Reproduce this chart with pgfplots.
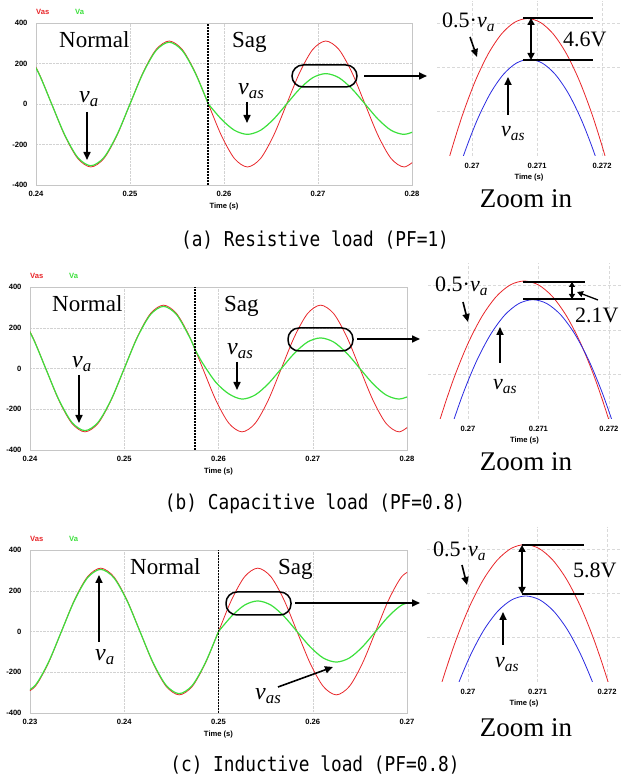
\documentclass[border=0pt]{standalone}
\usepackage{fontspec}
\setmainfont{Liberation Serif}
\newfontfamily\arial{Liberation Sans}
\newfontfamily\capf{DejaVu Sans Mono}
\usepackage{graphicx}
\usepackage{pgfplots}
\pgfplotsset{compat=1.18}
\usetikzlibrary{arrows.meta}

\definecolor{vred}{HTML}{E8262A}
\definecolor{vgreen}{HTML}{3CE03C}
\definecolor{vblue}{HTML}{2A2AE0}

\newcommand\tickf{\arial\bfseries\fontsize{7.6}{8.5}\selectfont}
\newcommand\vv[1]{\textit{v}\textsubscript{\textit{#1}}}
\newcommand\capt[1]{\scalebox{1}[1.15]{\capf\fontsize{17.8}{20}\selectfont #1}}

\pgfplotsset{
  mainax/.style={scale only axis, ymin=-400, ymax=400,
    ytick={-400,-200,0,200,400}, yticklabels={-400,-200,0,200,400},
    grid=major, major grid style={gray!35, densely dotted},
    axis line style={gray!45}, tick style={draw=none},
    ticklabel style={font=\tickf},
    xticklabel style={yshift=-3pt}, yticklabel style={xshift=-5pt},
    xlabel={Time (s)},
    xlabel style={font=\tickf, at={(axis description cs:0.5,0)}, anchor=center, yshift=-22pt}},
  zoomax/.style={scale only axis, ymin=140, ymax=157.5,
    ytick={145,150,155}, yticklabels={,,},
    xtick={0.27,0.271,0.272}, xticklabels={0.27,0.271,0.272},
    grid=major, major grid style={gray!30, densely dashed},
    axis line style={draw=none}, tick style={draw=none},
    ticklabel style={font=\tickf}, xticklabel style={yshift=-4pt},
    xlabel={Time (s)},
    xlabel style={font=\tickf, at={(axis description cs:0.5,0)}, anchor=center, yshift=-22pt}},
  red/.style={vred, line width=0.8pt, smooth},
  grn/.style={vgreen, line width=1.2pt, smooth},
  zred/.style={vred, line width=0.8pt, smooth},
  zblu/.style={vblue, line width=0.8pt, smooth},
}
\tikzset{
  arr/.style={line width=1.6pt, -{Triangle[length=8pt,width=7pt]}},
  darr/.style={line width=1.6pt, {Triangle[length=7pt,width=7pt]}-{Triangle[length=7pt,width=7pt]}},
  big/.style={inner sep=0, font=\fontsize{23}{25}\selectfont},
  vlab/.style={inner sep=0, anchor=base west, font=\fontsize{24}{26}\selectfont},
  sagline/.style={black, line width=1.6pt, dash pattern=on 1.5pt off 1.5pt},
}

\begin{document}
\begin{tikzpicture}[x=1pt,y=1pt]
\useasboundingbox (0,0) rectangle (621,781);

% ---------- (a) resistive load ----------
\begin{axis}[mainax, at={(36pt,596pt)}, width=376pt, height=162pt,
  xmin=0.24, xmax=0.28, xtick={0.24,0.25,0.26,0.27,0.28},
  xticklabels={0.24,0.25,0.26,0.27,0.28}]
\addplot[red] coordinates {(0.238889,269.3)(0.240278,155.5)(0.241667,0)(0.243056,-155.5)(0.244444,-269.3)(0.245833,-311)(0.247222,-269.3)(0.248611,-155.5)(0.25,0)(0.251389,155.5)(0.252778,269.3)(0.254167,311)(0.255556,269.3)(0.256944,155.5)(0.258333,0)(0.259722,-155.5)(0.261111,-269.3)(0.2625,-311)(0.263889,-269.3)(0.265278,-155.5)(0.266667,0)(0.268056,155.5)(0.269444,269.3)(0.270833,311)(0.272222,269.3)(0.273611,155.5)(0.275,0)(0.276389,-155.5)(0.277778,-269.3)(0.279167,-311)(0.280556,-269.3)};
\addplot[grn] coordinates {(0.238889,264.1)(0.240278,152.5)(0.241667,0)(0.243056,-152.5)(0.244444,-264.1)(0.245833,-305)(0.247222,-264.1)(0.248611,-152.5)(0.25,0)(0.251389,152.5)(0.252778,264.1)(0.254167,305)(0.255556,264.1)(0.256944,152.5)(0.258333,0)};
\addplot[grn] coordinates {(0.258333,0)(0.259722,-75)(0.261111,-129.9)(0.2625,-150)(0.263889,-129.9)(0.265278,-75)(0.266667,0)(0.268056,75)(0.269444,129.9)(0.270833,150)(0.272222,129.9)(0.273611,75)(0.275,0)(0.276389,-75)(0.277778,-129.9)(0.279167,-150)(0.280556,-129.9)};
\draw[sagline] (axis cs:0.2583,-400) -- (axis cs:0.2583,400);
\end{axis}

\begin{axis}[zoomax, at={(437pt,625pt)}, width=184pt, height=155.2pt,
  xmin=0.26946, xmax=0.27229]
\addplot[zred] coordinates {(0.26925,128.06)(0.26945,134.34)(0.26965,139.86)(0.26985,144.58)(0.27005,148.48)(0.27025,151.54)(0.27045,153.74)(0.27065,155.06)(0.27085,155.5)(0.27105,155.06)(0.27125,153.74)(0.27145,151.54)(0.27165,148.48)(0.27185,144.58)(0.27205,139.86)(0.27225,134.34)(0.27245,128.06)};
\addplot[zblu] coordinates {(0.26928,124.27)(0.26948,130.36)(0.26968,135.72)(0.26988,140.30)(0.27008,144.09)(0.27028,147.06)(0.27048,149.19)(0.27068,150.47)(0.27088,150.9)(0.27108,150.47)(0.27128,149.19)(0.27148,147.06)(0.27168,144.09)(0.27188,140.30)(0.27208,135.72)(0.27228,130.36)(0.27248,124.27)};
\draw[gray!70] (rel axis cs:0,0) -- (rel axis cs:1,0);
\end{axis}

% ---------- (b) capacitive load ----------
\begin{axis}[mainax, at={(30pt,331pt)}, width=377pt, height=163pt,
  xmin=0.24, xmax=0.28, xtick={0.24,0.25,0.26,0.27,0.28},
  xticklabels={0.24,0.25,0.26,0.27,0.28}]
\addplot[red] coordinates {(0.238889,269.3)(0.240278,155.5)(0.241667,0)(0.243056,-155.5)(0.244444,-269.3)(0.245833,-311)(0.247222,-269.3)(0.248611,-155.5)(0.25,0)(0.251389,155.5)(0.252778,269.3)(0.254167,311)(0.255556,269.3)(0.256944,155.5)(0.258333,0)(0.259722,-155.5)(0.261111,-269.3)(0.2625,-311)(0.263889,-269.3)(0.265278,-155.5)(0.266667,0)(0.268056,155.5)(0.269444,269.3)(0.270833,311)(0.272222,269.3)(0.273611,155.5)(0.275,0)(0.276389,-155.5)(0.277778,-269.3)(0.279167,-311)(0.280556,-269.3)};
\addplot[grn] coordinates {(0.238889,264.1)(0.240278,152.5)(0.241667,0)(0.243056,-152.5)(0.244444,-264.1)(0.245833,-305)(0.247222,-264.1)(0.248611,-152.5)(0.25,0)(0.251389,152.5)(0.252778,264.1)(0.254167,305)(0.255556,264.1)(0.256944,152.5)(0.2575,94)};
\addplot[grn] coordinates {(0.2575,94)(0.258333,25)(0.259722,-68)(0.261111,-125)(0.2625,-150)(0.263889,-129.9)(0.265278,-75)(0.266667,0)(0.268056,75)(0.269444,129.9)(0.270833,150)(0.272222,129.9)(0.273611,75)(0.275,0)(0.276389,-75)(0.277778,-129.9)(0.279167,-150)(0.280556,-129.9)};
\draw[sagline] (axis cs:0.2575,-400) -- (axis cs:0.2575,400);
\end{axis}

\begin{axis}[zoomax, at={(428pt,362pt)}, width=193pt, height=155.8pt,
  xmin=0.269433, xmax=0.272171]
\addplot[zred] coordinates {(0.2692,128.06)(0.2694,134.34)(0.2696,139.86)(0.2698,144.58)(0.2700,148.48)(0.2702,151.54)(0.2704,153.74)(0.2706,155.06)(0.2708,155.5)(0.2710,155.06)(0.2712,153.74)(0.2714,151.54)(0.2716,148.48)(0.2718,144.58)(0.2720,139.86)(0.2722,134.34)(0.2724,128.06)};
\addplot[zblu] coordinates {(0.26932,126.33)(0.26952,132.52)(0.26972,137.97)(0.26992,142.63)(0.27012,146.48)(0.27032,149.49)(0.27052,151.66)(0.27072,152.96)(0.27092,153.4)(0.27112,152.96)(0.27132,151.66)(0.27152,149.49)(0.27172,146.48)(0.27192,142.63)(0.27212,137.97)(0.27232,132.52)(0.27252,126.33)};
\draw[gray!70] (rel axis cs:0,0) -- (rel axis cs:1,0);
\end{axis}

% ---------- (c) inductive load ----------
\begin{axis}[mainax, at={(30pt,68pt)}, width=377pt, height=163pt,
  xmin=0.23, xmax=0.27, xtick={0.23,0.24,0.25,0.26,0.27},
  xticklabels={0.23,0.24,0.25,0.26,0.27}]
\addplot[red] coordinates {(0.229167,-311)(0.230556,-269.3)(0.231944,-155.5)(0.233333,0)(0.234722,155.5)(0.236111,269.3)(0.2375,311)(0.238889,269.3)(0.240278,155.5)(0.241667,0)(0.243056,-155.5)(0.244444,-269.3)(0.245833,-311)(0.247222,-269.3)(0.248611,-155.5)(0.25,0)(0.251389,155.5)(0.252778,269.3)(0.254167,311)(0.255556,269.3)(0.256944,155.5)(0.258333,0)(0.259722,-155.5)(0.261111,-269.3)(0.2625,-311)(0.263889,-269.3)(0.265278,-155.5)(0.266667,0)(0.268056,155.5)(0.269444,269.3)(0.270833,311)};
\addplot[grn] coordinates {(0.229167,-305)(0.230556,-264.1)(0.231944,-152.5)(0.233333,0)(0.234722,152.5)(0.236111,264.1)(0.2375,305)(0.238889,264.1)(0.240278,152.5)(0.241667,0)(0.243056,-152.5)(0.244444,-264.1)(0.245833,-305)(0.247222,-264.1)(0.248611,-152.5)(0.25,0)};
\addplot[grn] coordinates {(0.25,0)(0.251389,75)(0.252778,129.9)(0.254167,150)(0.255556,129.9)(0.256944,75)(0.258333,0)(0.259722,-75)(0.261111,-129.9)(0.2625,-150)(0.263889,-129.9)(0.265278,-75)(0.266667,0)(0.268056,75)(0.269444,129.9)(0.270833,150)};
\draw[sagline] (axis cs:0.25,-400) -- (axis cs:0.25,400);
\end{axis}

\begin{axis}[zoomax, at={(427pt,99pt)}, width=194pt, height=155.2pt,
  xmin=0.26941, xmax=0.2722]
\addplot[zred] coordinates {(0.26922,128.06)(0.26942,134.34)(0.26962,139.86)(0.26982,144.58)(0.27002,148.48)(0.27022,151.54)(0.27042,153.74)(0.27062,155.06)(0.27082,155.5)(0.27102,155.06)(0.27122,153.74)(0.27142,151.54)(0.27162,148.48)(0.27182,144.58)(0.27202,139.86)(0.27222,134.34)(0.27242,128.06)};
\addplot[zblu] coordinates {(0.26923,123.28)(0.26943,129.33)(0.26963,134.64)(0.26983,139.19)(0.27003,142.94)(0.27023,145.89)(0.27043,148.0)(0.27063,149.27)(0.27083,149.7)(0.27103,149.27)(0.27123,148.0)(0.27143,145.89)(0.27163,142.94)(0.27183,139.19)(0.27203,134.64)(0.27223,129.33)(0.27243,123.28)};
\draw[gray!70] (rel axis cs:0,0) -- (rel axis cs:1,0);
\end{axis}

% ---------- annotations (a) ----------
\node[anchor=west, inner sep=0, font=\tickf, text=vred] at (36,769) {Vas};
\node[anchor=west, inner sep=0, font=\tickf, text=vgreen] at (75,769) {Va};
\node[big, anchor=base west] at (59,733) {Normal};
\node[big, anchor=base west] at (232,733) {Sag};
\node[vlab] at (79,678) {\vv{a}};
\draw[arr] (87,669) -- (87,621);
\node[vlab] at (238,686) {\vv{as}};
\draw[arr] (247,679) -- (247,658);
\draw[line width=1.5pt, rounded corners=11pt] (292,716) rectangle (357,694);
\draw[arr] (364,705) -- (427,705);
\node[vlab, font=\fontsize{22}{24}\selectfont] at (442,753) {0.5·\vv{a}};
\draw[arr] (470,744) -- (477,724);
\draw[line width=1.5pt] (523,763) -- (593,763) (523,721) -- (593,721);
\draw[darr] (531,763) -- (531,721);
\node[vlab, font=\fontsize{22}{24}\selectfont] at (563,734) {4.6V};
\node[vlab, font=\fontsize{22}{24}\selectfont] at (501,644) {\vv{as}};
\draw[arr] (508,666) -- (508,704);
\node[big, anchor=base, font=\fontsize{27}{30}\selectfont] at (526,573) {Zoom in};
\node[inner sep=0] at (315,541) {\capt{(a) Resistive load (PF=1)}};

% ---------- annotations (b) ----------
\node[anchor=west, inner sep=0, font=\tickf, text=vred] at (30,505) {Vas};
\node[anchor=west, inner sep=0, font=\tickf, text=vgreen] at (69,505) {Va};
\node[big, anchor=base west] at (52,469) {Normal};
\node[big, anchor=base west] at (224,469) {Sag};
\node[vlab] at (72,413) {\vv{a}};
\draw[arr] (79,406) -- (79,358);
\node[vlab] at (227,426) {\vv{as}};
\draw[arr] (237,419) -- (237,391);
\draw[line width=1.5pt, rounded corners=11pt] (288,453) rectangle (353,430);
\draw[arr] (357,442) -- (420,442);
\node[vlab, font=\fontsize{22}{24}\selectfont] at (435,489) {0.5·\vv{a}};
\draw[arr] (463,479) -- (468,459);
\draw[line width=1.5pt] (523,499) -- (585,499) (523,482) -- (585,482);
\draw[line width=1.2pt, {Triangle[length=5pt,width=6pt]}-{Triangle[length=5pt,width=6pt]}] (572,499) -- (572,482);
\draw[line width=1.3pt, -{Triangle[length=6pt,width=6pt]}] (598,481) -- (577,489);
\node[vlab, font=\fontsize{22}{24}\selectfont] at (575,458) {2.1V};
\node[vlab, font=\fontsize{22}{24}\selectfont] at (493,391) {\vv{as}};
\draw[arr] (500,418) -- (500,454);
\node[big, anchor=base, font=\fontsize{27}{30}\selectfont] at (526,310) {Zoom in};
\node[inner sep=0] at (315,277) {\capt{(b) Capacitive load (PF=0.8)}};

% ---------- annotations (c) ----------
\node[anchor=west, inner sep=0, font=\tickf, text=vred] at (30,242) {Vas};
\node[anchor=west, inner sep=0, font=\tickf, text=vgreen] at (69,242) {Va};
\node[big, anchor=base west] at (130,206) {Normal};
\node[big, anchor=base west] at (278,206) {Sag};
\node[vlab] at (95,120) {\vv{a}};
\draw[arr] (99,139) -- (99,206);
\node[vlab] at (255,81) {\vv{as}};
\draw[arr] (278,94) -- (333,114);
\draw[line width=1.5pt, rounded corners=11pt] (226,189) rectangle (291,166);
\draw[arr] (295,178) -- (420,178);
\node[vlab, font=\fontsize{22}{24}\selectfont] at (433,224) {0.5·\vv{a}};
\draw[arr] (462,216) -- (467,196);
\draw[line width=1.5pt] (522,236) -- (584,236) (522,187) -- (584,187);
\draw[darr] (522,236) -- (522,187);
\node[vlab, font=\fontsize{22}{24}\selectfont] at (573,203) {5.8V};
\node[vlab, font=\fontsize{22}{24}\selectfont] at (495,113) {\vv{as}};
\draw[arr] (503,136) -- (503,169);
\node[big, anchor=base, font=\fontsize{27}{30}\selectfont] at (526,44) {Zoom in};
\node[inner sep=0] at (315,16) {\capt{(c) Inductive load (PF=0.8)}};
\end{tikzpicture}
\end{document}
